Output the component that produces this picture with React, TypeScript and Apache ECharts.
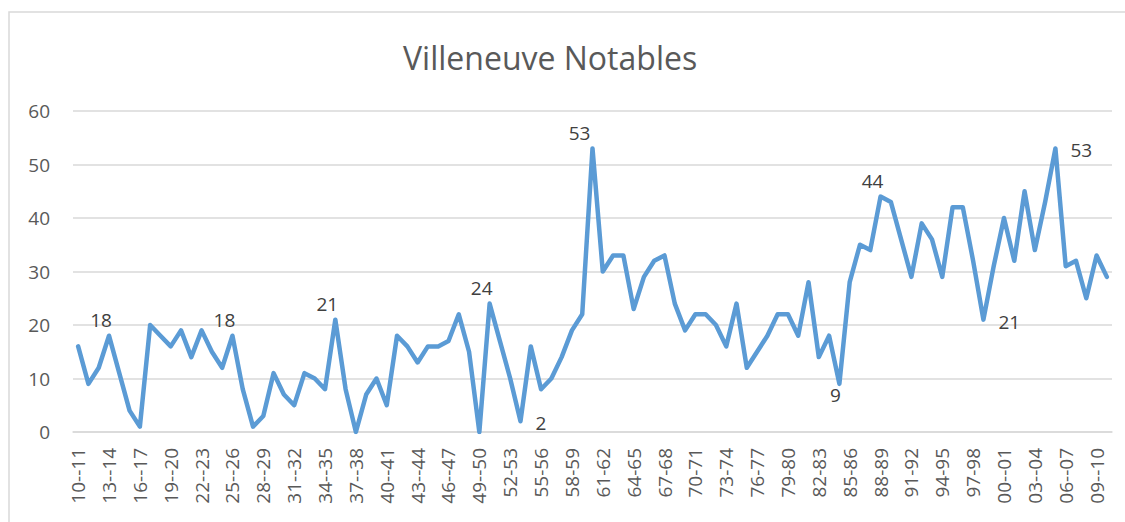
import React, { useEffect, useRef } from "react";
import * as echarts from "echarts";

const seasons: string[] = [
  "10--11","11--12","12--13","13--14","14--15","15--16","16--17","17--18","18--19","19--20",
  "20--21","21--22","22--23","23--24","24--25","25--26","26--27","27--28","28--29","29--30",
  "30--31","31--32","32--33","33--34","34--35","35--36","36--37","37--38","38--39","39--40",
  "40--41","41--42","42--43","43--44","44--45","45--46","46--47","47--48","48--49","49--50",
  "50--51","51-52","52-53","53-54","54-55","55-56","56-57","57-58","58-59","59-60",
  "60-61","61-62","62-63","63-64","64-65","65-66","66-67","67-68","68-69","69-70",
  "70-71","71-72","72-73","73-74","74-75","75-76","76-77","77-78","78-79","79-80",
  "80-81","81-82","82-83","83-84","84-85","85-86","86-87","87-88","88-89","89-90",
  "90-91","91-92","92-93","93-94","94-95","95-96","96-97","97-98","98-99","99-00",
  "00--01","01--02","02--03","03--04","04--05","05--06","06--07","07--08","08--09","09--10",
  "10--11"
];

const notables: number[] = [
  16, 9, 12, 18, 11, 4, 1, 20, 18, 16,
  19, 14, 19, 15, 12, 18, 8, 1, 3, 11,
  7, 5, 11, 10, 8, 21, 8, 0, 7, 10,
  5, 18, 16, 13, 16, 16, 17, 22, 15, 0,
  24, 17, 10, 2, 16, 8, 10, 14, 19, 22,
  53, 30, 33, 33, 23, 29, 32, 33, 24, 19,
  22, 22, 20, 16, 24, 12, 15, 18, 22, 22,
  18, 28, 14, 18, 9, 28, 35, 34, 44, 43,
  36, 29, 39, 36, 29, 42, 42, 32, 21, 31,
  40, 32, 45, 34, 43, 53, 31, 32, 25, 33,
  29
];

const yTicks: number[] = [0, 10, 20, 30, 40, 50, 60];

// indices of points that carry a data label, with where the label sits
const labelledIdx: number[] = [3, 15, 25, 40, 43, 50, 74, 78, 88, 95];
const labelPos: string[] = ["top", "top", "top", "top", "right", "top", "bottom", "top", "right", "right"];

const FONT = "'Open Sans', 'Noto Sans', sans-serif";
const TEXT = "#595959";

export default function App() {
  const ref = useRef<HTMLDivElement>(null);

  useEffect(() => {
    if (!ref.current) return;
    const chart = echarts.init(ref.current, undefined, { renderer: "svg" });

    const data = notables.map((v, i) => {
      const k = labelledIdx.indexOf(i);
      if (k < 0) return v;
      const pos = labelPos[k];
      const label: any = {
        show: true,
        position: pos,
        color: "#404040",
        fontSize: 19,
        fontFamily: FONT,
      };
      if (pos === "top") {
        label.distance = 5;
        label.offset = i === 50 ? [-13, 0] : [-8, 0];
      } else if (pos === "right") {
        label.distance = 14;
        label.offset = [0, 2];
      } else {
        label.distance = 1;
        label.offset = [-4, 0];
      }
      return { value: v, label };
    });

    chart.setOption({
      animation: false,
      backgroundColor: "#ffffff",
      title: {
        text: "Villeneuve Notables",
        left: 398,
        top: 36,
        textStyle: {
          color: TEXT,
          fontSize: 32,
          fontWeight: "normal",
          fontFamily: FONT,
        },
      },
      graphic: [
        {
          type: "rect",
          shape: { x: 9, y: 12, width: 1130, height: 530 },
          style: { fill: "none", stroke: "#d9d9d9", lineWidth: 1.5 },
          silent: true,
          z: -1,
        },
      ],
      grid: { left: 73, right: 13, top: 111, bottom: 90, containLabel: false },
      xAxis: {
        type: "category",
        data: seasons,
        boundaryGap: true,
        axisLine: { show: true, lineStyle: { color: "#d9d9d9", width: 1.5 } },
        axisTick: { show: false },
        axisLabel: {
          interval: 2,
          rotate: 90,
          margin: 16,
          color: TEXT,
          fontSize: 19,
          fontFamily: FONT,
        },
      },
      yAxis: {
        type: "value",
        min: yTicks[0],
        max: yTicks[yTicks.length - 1],
        interval: 10,
        axisLine: { show: false },
        axisTick: { show: false },
        axisLabel: {
          margin: 23,
          color: TEXT,
          fontSize: 19,
          fontFamily: FONT,
        },
        splitLine: { lineStyle: { color: "#d9d9d9", width: 1.5 } },
      },
      series: [
        {
          type: "line",
          data,
          symbol: "circle",
          symbolSize: 2,
          showSymbol: true,
          itemStyle: { color: "#5b9bd5" },
          lineStyle: { color: "#5b9bd5", width: 4.5, join: "round", cap: "round" },
          label: { show: false },
        },
      ],
    });

    return () => chart.dispose();
  }, []);

  return (
    <div
      ref={ref}
      style={{ position: "fixed", left: 0, top: 0, width: 1125, height: 522, background: "#fff" }}
    />
  );
}
